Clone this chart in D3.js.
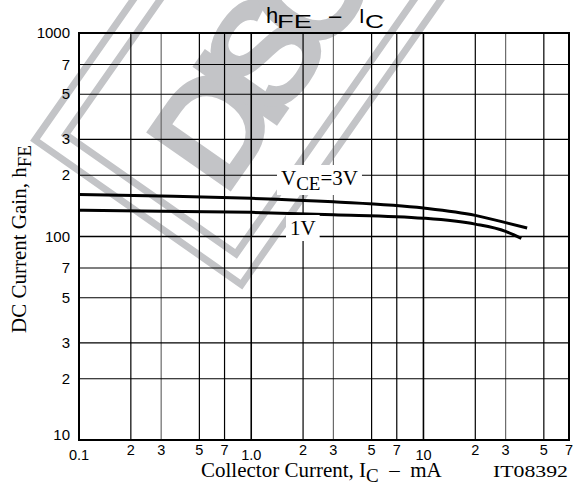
<!DOCTYPE html>
<html>
<head>
<meta charset="utf-8">
<script src="https://cdn.jsdelivr.net/npm/d3@7"></script>
<style>
  body { margin: 0; background: #fff; }
  svg text { fill: #000; }
</style>
</head>
<body>
<div id="chart"></div>
<script>
// hFE - IC curves
const current3V = [0.1, 0.3, 1, 3, 10, 20, 30, 40];
const hfe3V = [161, 158, 154, 148, 138, 127, 117, 110];
const current1V = [0.1, 0.3, 1, 3, 10, 20, 30, 37];
const hfe1V = [134.5, 133, 131.5, 128, 123, 115, 106, 98];

const xGrid = [0.2, 0.3, 0.5, 0.7, 1, 2, 3, 5, 7, 10, 20, 30, 50];
const yGrid = [20, 30, 50, 70, 100, 200, 300, 500, 700];
const xTicks = [0.1, 0.2, 0.3, 0.5, 0.7, 1, 2, 3, 5, 7, 10, 20, 30, 50, 70];
const xTickText = ["0.1", "2", "3", "5", "7", "1.0", "2", "3", "5", "7", "10", "2", "3", "5", "7"];
const yTicks = [10, 20, 30, 50, 70, 100, 200, 300, 500, 700, 1000];
const yTickText = ["10", "2", "3", "5", "7", "100", "2", "3", "5", "7", "1000"];

const width = 575, height = 490;
const margin = { top: 33, right: 6, bottom: 50, left: 79 };

const x = d3.scaleLog().domain([0.1, 70]).range([margin.left, width - margin.right]);
const y = d3.scaleLog().domain([10, 1000]).range([height - margin.bottom, margin.top]);

const svg = d3.select("#chart").append("svg")
    .attr("width", width).attr("height", height)
    .attr("viewBox", [0, 0, width, height]);

// watermark
const wmGray = "#c3c4c7";
const wm = svg.append("g").attr("transform", "translate(35,140) rotate(-55)");
wm.append("rect").attr("x", 0).attr("y", 0).attr("width", 900).attr("height", 252)
    .attr("fill", "none").attr("stroke", wmGray).attr("stroke-width", 7);
wm.append("rect").attr("x", 22).attr("y", 22).attr("width", 900).attr("height", 208)
    .attr("fill", "none").attr("stroke", wmGray).attr("stroke-width", 7);
wm.append("text").attr("x", 60).attr("y", 190)
    .attr("font-family", "Liberation Sans, Arial, sans-serif").attr("font-weight", "bold")
    .attr("font-size", 150).attr("letter-spacing", -28).style("fill", wmGray)
    .text("DISCONTINUED");

// grid
const isThree = d => Math.abs(Math.log10(d) - Math.round(Math.log10(d) - 0.477) - 0.477) < 0.01;
svg.append("g").selectAll("line").data(xGrid).join("line")
    .attr("x1", d => x(d)).attr("x2", d => x(d))
    .attr("y1", y(10)).attr("y2", y(1000))
    .attr("stroke", d => isThree(d) ? "#6a6a6a" : "#000")
    .attr("stroke-width", d => (d === 1 || d === 10) ? 1.6 : 1.2);
svg.append("g").selectAll("line").data(yGrid).join("line")
    .attr("x1", x(0.1)).attr("x2", x(70))
    .attr("y1", d => y(d)).attr("y2", d => y(d))
    .attr("stroke", "#000")
    .attr("stroke-width", d => d === 100 ? 1.6 : 1.2);
svg.append("rect")
    .attr("x", x(0.1)).attr("y", y(1000))
    .attr("width", x(70) - x(0.1)).attr("height", y(10) - y(1000))
    .attr("fill", "none").attr("stroke", "#000").attr("stroke-width", 2);

// curves
const line = d3.line().curve(d3.curveMonotoneX).x(d => x(d[0])).y(d => y(d[1]));
svg.append("path").datum(d3.zip(current3V, hfe3V))
    .attr("d", line).attr("fill", "none").attr("stroke", "#000").attr("stroke-width", 3);
svg.append("path").datum(d3.zip(current1V, hfe1V))
    .attr("d", line).attr("fill", "none").attr("stroke", "#000").attr("stroke-width", 3);

// curve labels with white backing
const serif = "Liberation Serif, Times New Roman, serif";
function label(px, py, parts) {
  const g = svg.append("g");
  const bg = g.append("rect").attr("fill", "#fff");
  const t = g.append("text").attr("x", px).attr("y", py)
      .attr("font-family", serif).attr("font-size", 21);
  parts.forEach(p => {
    t.append("tspan").attr("dy", p.dy || 0).attr("font-size", p.size || 21).text(p.s);
  });
  const b = t.node().getBBox();
  bg.attr("x", b.x - 4).attr("y", b.y - 1).attr("width", b.width + 8).attr("height", b.height + 2);
}
label(281, 185, [{ s: "V" }, { s: "CE", dy: 5, size: 19 }, { s: "=3V", dy: -5 }]);
label(290, 235, [{ s: "1V" }]);

// tick labels
const sans = "Liberation Sans, Arial, sans-serif";
svg.append("g").selectAll("text").data(yTicks).join("text")
    .attr("x", 70).attr("y", (d, i) => y(d) + (i === 0 ? 0 : 5))
    .attr("text-anchor", "end").attr("font-family", sans).attr("font-size", 15)
    .text((d, i) => yTickText[i]);
svg.append("g").selectAll("text").data(xTicks).join("text")
    .attr("x", d => x(d))
    .attr("y", (d, i) => /\./.test(xTickText[i]) || xTickText[i] === "10" ? 460 : 455)
    .attr("text-anchor", "middle").attr("font-family", sans).attr("font-size", 14.5)
    .text((d, i) => xTickText[i]);

// title
const title = svg.append("text").attr("y", 23)
    .attr("font-family", sans).attr("font-size", 22);
title.append("tspan").attr("x", 266).text("h");
title.append("tspan").attr("x", 277).attr("dy", 5).attr("font-size", 19)
    .attr("textLength", 35).attr("lengthAdjust", "spacingAndGlyphs").text("FE");
title.append("tspan").attr("x", 329).attr("dy", -5).text("\u2013");
title.append("tspan").attr("x", 359).attr("font-size", 20).text("I");
title.append("tspan").attr("x", 365).attr("dy", 5).attr("font-size", 19)
    .attr("textLength", 19).attr("lengthAdjust", "spacingAndGlyphs").text("C");

// axis titles
const xl = svg.append("text").attr("x", 201).attr("y", 477)
    .attr("font-family", serif).attr("font-size", 21);
xl.append("tspan").text("Collector Current, I");
xl.append("tspan").attr("dy", 5).attr("font-size", 19).text("C");
xl.append("tspan").attr("dy", -5).attr("xml:space", "preserve").text("  \u2013  mA");

const yl = svg.append("text").attr("transform", "translate(26,333) rotate(-90)")
    .attr("font-family", serif).attr("font-size", 21);
yl.append("tspan").text("DC Current Gain, h");
yl.append("tspan").attr("dy", 5).attr("font-size", 19).text("FE");

svg.append("text").attr("x", 493).attr("y", 477)
    .attr("font-family", serif).attr("font-size", 17)
    .attr("textLength", 75).attr("lengthAdjust", "spacingAndGlyphs").text("IT08392");
</script>
</body>
</html>
